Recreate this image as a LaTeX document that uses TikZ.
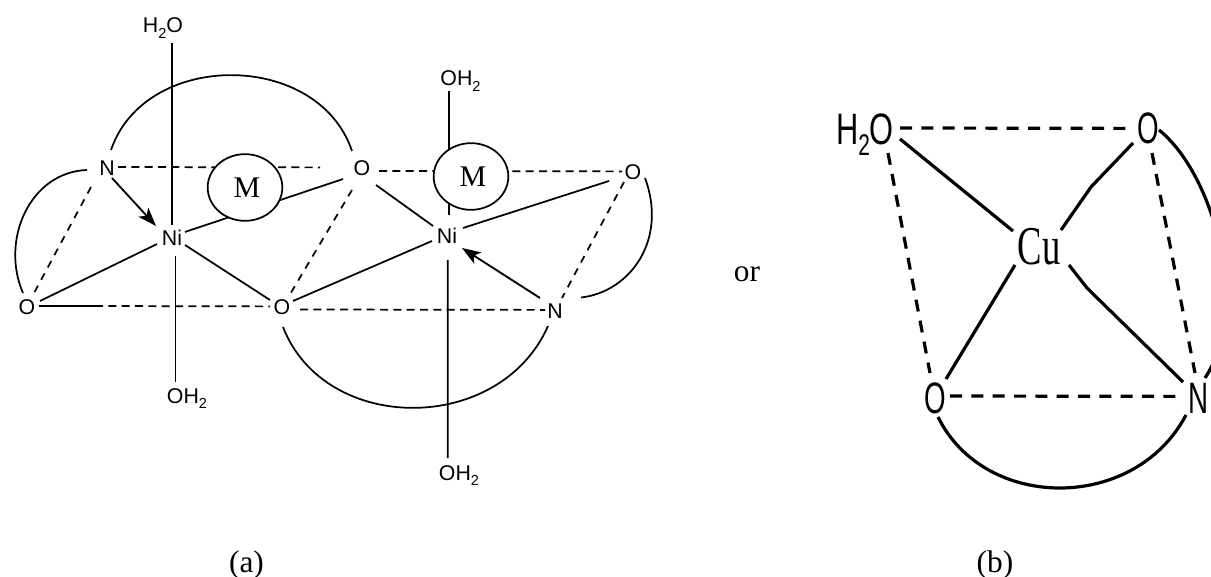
\documentclass[tikz,border=0pt]{standalone}
\usepackage{fontspec}
\usepackage{graphicx}
\setmainfont{Liberation Sans}
\newfontfamily\timesf{Liberation Serif}
\usetikzlibrary{arrows.meta,shapes.geometric}
\newcommand{\subtwo}{\raisebox{-.24em}{\scalebox{.68}{2}}}
\tikzset{
  x=0.75pt,y=-0.75pt,
  chem/.style={inner sep=0pt,font=\fontsize{16}{16}\selectfont},
  bigchem/.style={inner sep=0pt,font=\fontsize{33}{33}\selectfont},
  thin bond/.style={line width=1.3pt},
  thin dash/.style={line width=1.3pt,dash pattern=on 6pt off 4pt},
  ox dash/.style={line width=1.3pt,dash pattern=on 5.5pt off 5pt},
  dative/.style={line width=1.4pt,-{Stealth[length=14pt,width=10pt,inset=3.5pt]}},
  fat bond/.style={line width=2.4pt},
  fat dash/.style={line width=2.4pt,dash pattern=on 9pt off 7pt},
  metal/.style={ellipse,draw,fill=white,line width=1.3pt,minimum width=56pt,minimum height=50pt,inner sep=0pt,font=\timesf\fontsize{22.5}{22.5}\selectfont},
  caption/.style={inner sep=0pt,anchor=base,font=\timesf\fontsize{23.5}{23.5}\selectfont}
}
\begin{document}
\begin{tikzpicture}
\useasboundingbox (0,0) rectangle (1211,577);
% --- (a) atoms
\node[chem,anchor=base] (h2oa) at (163,33) {H\subtwo O};
\node[chem,anchor=base] (oha) at (187,403) {OH\subtwo};
\node[chem,anchor=base] (ohb) at (460.5,86) {OH\subtwo};
\node[chem,anchor=base] (ohc) at (459,480) {OH\subtwo};
\node[chem] (n1) at (107,168) {N};
\node[chem] (ni1) at (172,238) {Ni};
\node[chem] (o1) at (27,307) {O};
\node[chem] (o2) at (362,168) {O};
\node[chem] (o3) at (282,307) {O};
\node[chem] (ni2) at (447,236) {Ni};
\node[chem] (o4) at (633,172) {O};
\node[chem] (n2) at (555,311) {N};
% --- (a) bonds
\draw[thin bond] ([shift={(9,10)}]h2oa.base) -- ([shift={(0,-13)}]ni1.center);
\draw[thin bond] ([shift={(3.5,18)}]ni1.center) -- ([shift={(-11.5,-21)}]oha.base);
\draw[thin bond] ([shift={(-11.5,5)}]ohb.base) -- ([shift={(2,-21)}]ni2.center);
\draw[thin bond] ([shift={(0.7,24)}]ni2.center) -- ([shift={(-11.3,-22)}]ohc.base);
\draw[thin bond] ([shift={(4,-18)}]n1.center) .. controls (145,50) and (318,50) .. ([shift={(-10,-17)}]o2.center);
\draw[thin bond] ([shift={(-20,2)}]n1.center) .. controls (30,172) and (0,240) .. ([shift={(-4,-14)}]o1.center);
\draw[thin bond] ([shift={(26,-13.5)}]n2.center) .. controls (630,292) and (668,240) .. ([shift={(12,6)}]o4.center);
\draw[thin bond] ([shift={(1,20)}]o3.center) .. controls (325,435) and (500,435) .. ([shift={(-7,15)}]n2.center);
\draw[thin bond] ([shift={(-15,6)}]ni1.center) -- ([shift={(13,-6)}]o1.center);
\draw[thin bond] ([shift={(13,7)}]ni1.center) -- ([shift={(-12,-7)}]o3.center);
\draw[thin bond] ([shift={(13,-6)}]ni1.center) -- ([shift={(-19,11)}]o2.center);
\draw[thin bond] ([shift={(11,-6)}]o3.center) -- ([shift={(-15,5)}]ni2.center);
\draw[thin bond] ([shift={(14,17)}]o2.center) -- ([shift={(-14,-10)}]ni2.center);
\draw[thin bond] ([shift={(16,-8)}]ni2.center) -- ([shift={(-24,9)}]o4.center);
\draw[thin bond] ([shift={(12,-1)}]o1.center) -- ([shift={(-187,-1)}]o3.center);
\draw[dative] ([shift={(5,10)}]n1.center) -- ([shift={(-16,-12)}]ni1.center);
\draw[dative] ([shift={(-15,-13)}]n2.center) -- ([shift={(15,12)}]ni2.center);
\draw[thin dash] ([shift={(11,-1)}]n1.center) -- ([shift={(-42,-0.6)}]o2.center);
\draw[ox dash] ([shift={(-16,19)}]n1.center) -- ([shift={(6,-12)}]o1.center);
\draw[thin dash] ([shift={(68,-1)}]o1.center) -- ([shift={(-12,-0.6)}]o3.center);
\draw[ox dash] ([shift={(-10,22)}]o2.center) -- ([shift={(7,-11)}]o3.center);
\draw[thin dash] ([shift={(17,3)}]o2.center) -- ([shift={(-11,-0.6)}]o4.center);
\draw[thin dash] ([shift={(18,2.5)}]o3.center) -- ([shift={(-10,-1.1)}]n2.center);
\draw[ox dash] ([shift={(-9,10)}]o4.center) -- ([shift={(7,-13)}]n2.center);
% --- (a) metal rings, over the bonds
\node[metal] (m1) at (245,187.5) {\raisebox{-2.2pt}{\hspace{3pt}M}};
\node[metal] (m2) at (471,176.5) {\raisebox{-1.5pt}{\hspace{3pt}M}};
% --- (b)
\node[bigchem,anchor=base] (h2ob) at (865,145) {\scalebox{.7}[1]{H\subtwo O}};
\node[bigchem] (o5) at (1148,128) {\scalebox{.63}[1]{O}};
\node[bigchem] (o6) at (935,398) {\scalebox{.63}[1]{O}};
\node[bigchem] (n3) at (1198,398) {\scalebox{.63}[1]{N}};
\node[inner sep=0pt,font=\timesf\fontsize{41}{41}\selectfont] (cu) at (1039,247) {\scalebox{.67}[1]{Cu}};
\coordinate (k1) at (1091,187);
\coordinate (k2) at (1087,288);
\draw[fat bond] ([shift={(35,-6)}]h2ob.base) -- ([shift={(-26,-16)}]cu.center);
\draw[fat bond] ([shift={(-15,15)}]o5.center) -- (k1) -- ([shift={(22,-17)}]cu.center);
\draw[fat bond] ([shift={(-24,18)}]cu.center) -- ([shift={(11,-19)}]o6.center);
\draw[fat bond] ([shift={(30,18)}]cu.center) -- (k2) -- ([shift={(-15,-16)}]n3.center);
\draw[fat dash] ([shift={(35,-17)}]h2ob.base) -- ([shift={(-18,0.4)}]o5.center);
\draw[fat dash] ([shift={(15,-2)}]o6.center) -- ([shift={(-15,-1.6)}]n3.center);
\draw[fat dash] ([shift={(23,8)}]h2ob.base) -- ([shift={(-5,-25)}]o6.center);
\draw[fat dash] ([shift={(4,25)}]o5.center) -- ([shift={(-3,-25)}]n3.center);
\draw[fat bond] ([shift={(3,19)}]o6.center) .. controls (985,512) and (1135,512) .. ([shift={(-12,17)}]n3.center);
\draw[fat bond] ([shift={(11,2)}]o5.center) .. controls (1215,175) and (1250,310) .. ([shift={(7,-20)}]n3.center);
% --- captions
\node[caption] (or) at (747,282) {or};
\node[caption] (capa) at (246.5,572) {(a)};
\node[caption] (capb) at (995,572) {(b)};
\end{tikzpicture}
\end{document}
